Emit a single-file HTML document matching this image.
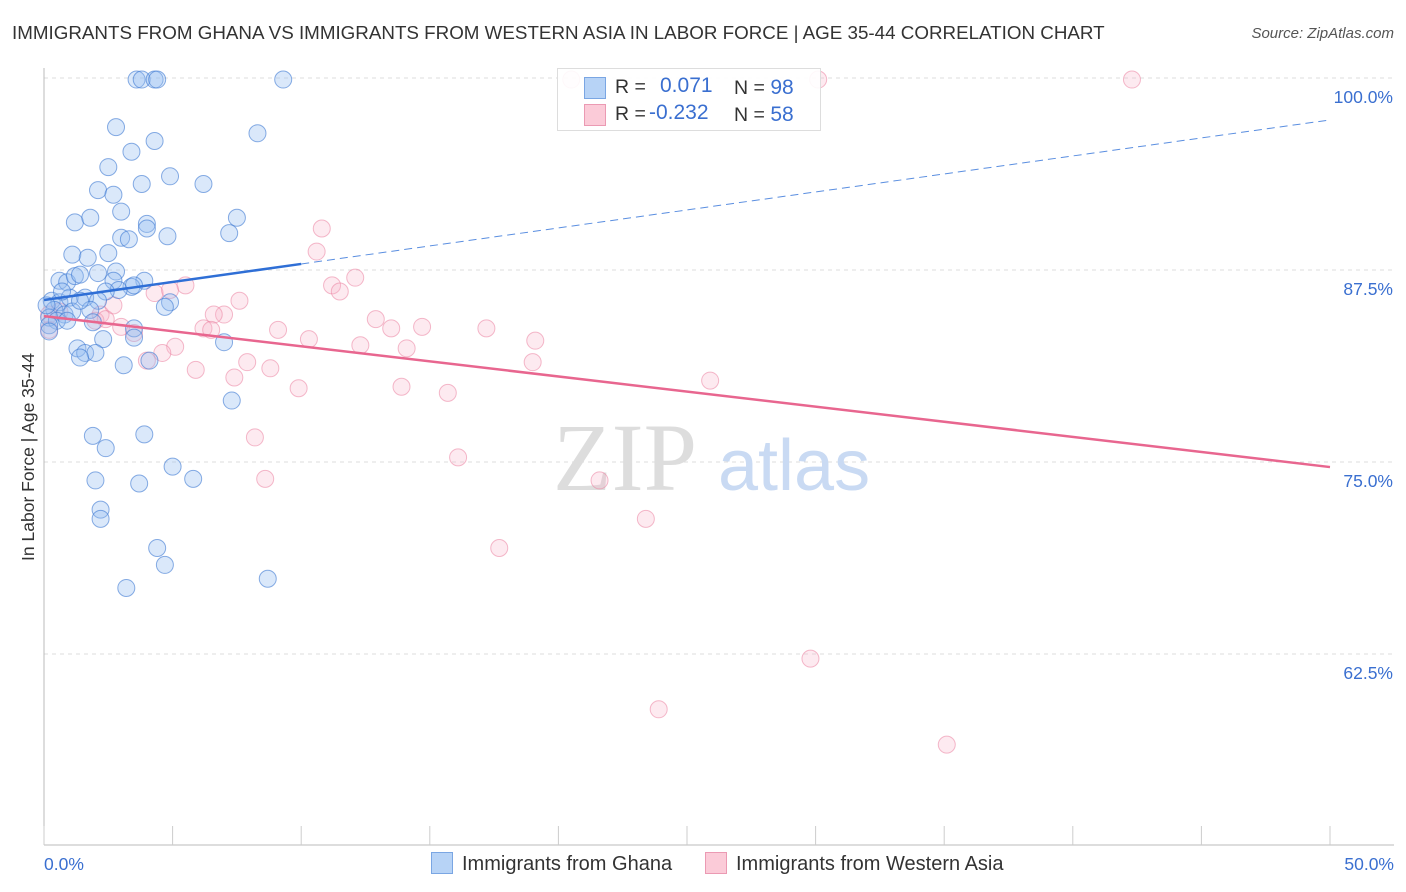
<!DOCTYPE html>
<html><head><meta charset="utf-8"><style>
body{margin:0;background:#fff;font-family:"Liberation Sans",sans-serif;}
#wrap{position:relative;width:1406px;height:892px;overflow:hidden;}
.t{position:absolute;white-space:nowrap;}
</style></head><body>
<div id="wrap">
<div class="t" style="left:12px;top:22px;font-size:18.8px;color:#333;">IMMIGRANTS FROM GHANA VS IMMIGRANTS FROM WESTERN ASIA IN LABOR FORCE | AGE 35-44 CORRELATION CHART</div>
<div class="t" style="right:12px;top:25px;font-size:15px;color:#555;font-style:italic;">Source: ZipAtlas.com</div>
<svg id="plot" width="1406" height="892" style="position:absolute;left:0;top:0"></svg>
</div>
<script>
const xTicks=[0,5,10,15,20,25,30,35,40,45,50];
const yTicks=[100,87.5,75,62.5];
const yTickLabels=["100.0%","87.5%","75.0%","62.5%"];
const ghanaX=[3.6,3.8,4.3,4.4,9.3,2.8,8.3,4.3,3.4,2.5,3.8,4.9,6.2,2.1,2.7,3.0,7.5,1.2,1.8,4.0,4.0,4.8,7.2,3.0,3.3,1.1,1.7,2.5,0.6,0.9,1.2,1.4,2.1,2.8,2.7,3.9,3.4,2.9,3.5,2.4,0.3,0.6,1.0,1.6,2.1,4.9,4.7,0.4,0.8,1.1,1.8,0.2,0.5,0.9,1.9,0.2,0.2,3.5,3.5,2.3,7.0,1.3,1.6,2.0,1.4,3.1,4.1,7.3,1.9,3.9,2.4,2.0,3.7,5.0,5.8,2.2,2.2,4.4,4.7,8.7,3.2,0.1,0.7,1.4];
const ghanaY=[99.9,99.9,99.9,99.9,99.9,96.8,96.4,95.9,95.2,94.2,93.1,93.6,93.1,92.7,92.4,91.3,90.9,90.6,90.9,90.5,90.2,89.7,89.9,89.6,89.5,88.5,88.3,88.6,86.8,86.7,87.1,87.2,87.3,87.4,86.8,86.8,86.4,86.2,86.5,86.1,85.5,85.4,85.7,85.7,85.5,85.4,85.1,84.9,84.6,84.8,84.9,84.4,84.2,84.2,84.1,83.9,83.5,83.7,83.1,83.0,82.8,82.4,82.1,82.1,81.8,81.3,81.6,79.0,76.7,76.8,75.9,73.8,73.6,74.7,73.9,71.9,71.3,69.4,68.3,67.4,66.8,85.2,86.1,85.5];
const waX=[20.5,30.1,42.3,10.8,10.6,12.1,11.2,11.5,5.5,4.3,4.9,7.6,7.0,6.6,9.1,6.2,6.5,12.9,13.5,14.7,17.2,19.1,10.3,12.3,14.1,5.1,4.6,4.0,3.0,2.2,3.5,7.9,8.8,5.9,7.4,19.0,9.9,13.9,15.7,25.9,8.2,8.6,16.1,21.6,23.4,17.7,29.8,23.9,35.1,2.7,2.0,0.2,0.6,0.2,2.4];
const waY=[99.9,99.9,99.9,90.2,88.7,87.0,86.5,86.1,86.5,86.0,86.2,85.5,84.6,84.6,83.6,83.7,83.6,84.3,83.7,83.8,83.7,82.9,83.0,82.6,82.4,82.5,82.1,81.6,83.8,84.6,83.4,81.5,81.1,81.0,80.5,81.5,79.8,79.9,79.5,80.3,76.6,73.9,75.3,73.8,71.3,69.4,62.2,58.9,56.6,85.2,84.2,83.6,84.8,84.6,84.3];
const ghanaTrend=[85.55,97.27];
const ghanaSolidEnd=10;
const waTrend=[84.5,74.67];

const X0=44,X1=1330,Y100=78,PX_PER_PCT=15.36;
const sx=v=>X0+(v/50)*(X1-X0);
const sy=v=>Y100+(100-v)*PX_PER_PCT;
const svg=document.getElementById('plot');
const NS='http://www.w3.org/2000/svg';
function mk(tag,attrs){const e=document.createElementNS(NS,tag);for(const k in attrs)e.setAttribute(k,attrs[k]);svg.appendChild(e);return e;}

yTicks.forEach((v,i)=>{
  const g=mk('line',{x1:44,x2:1394,y1:sy(v),y2:sy(v),stroke:'#ddd','stroke-dasharray':'4,4'});
  
  
  const t=mk('text',{x:1393,y:sy(v)+25,'text-anchor':'end','font-size':'17.5',fill:'#3a6fd0','font-family':'Liberation Sans, sans-serif'});
  t.textContent=yTickLabels[i];
  
  
});
let a=mk('line',{x1:44,x2:44,y1:68,y2:845,stroke:'#bbb'});


a=mk('line',{x1:44,x2:1394,y1:845,y2:845,stroke:'#bbb'});


xTicks.forEach(v=>{
  const l=mk('line',{x1:sx(v),x2:sx(v),y1:826,y2:845,stroke:'#ccc'});
  
  
});
[[0,'0.0%','start',44],[50,'50.0%','end',1394]].forEach(d=>{
  const t=mk('text',{x:d[3],y:870,'text-anchor':d[2],'font-size':'17.5',fill:'#3a6fd0','font-family':'Liberation Sans, sans-serif'});
  t.textContent=d[1];
  
  
});
let yt=mk('text',{x:34,y:457,transform:'rotate(-90 34 457)','text-anchor':'middle','font-size':'17.5',fill:'#333','font-family':'Liberation Sans, sans-serif'});
yt.textContent='In Labor Force | Age 35-44';


let w=mk('text',{x:553,y:490,'font-size':'96','font-family':'Liberation Serif, serif',fill:'#ddd'});
w.textContent='ZIP';


w=mk('text',{x:718,y:490,'font-size':'72','font-family':'Liberation Sans, sans-serif',fill:'#c9daf3'});
w.textContent='atlas';



waX.forEach((x,i)=>{
  const c=mk('circle',{cx:sx(x),cy:sy(waY[i]),r:8.5,fill:'rgba(248,180,200,0.28)',stroke:'rgba(235,130,160,0.55)','stroke-width':1});
  
  
});
ghanaX.forEach((x,i)=>{
  const c=mk('circle',{cx:sx(x),cy:sy(ghanaY[i]),r:8.5,fill:'rgba(150,190,240,0.35)',stroke:'rgba(60,120,210,0.6)','stroke-width':1});
  
  
});
const gy=x=>ghanaTrend[0]+(ghanaTrend[1]-ghanaTrend[0])*x/50;
let l=mk('line',{x1:sx(0),y1:sy(gy(0)),x2:sx(ghanaSolidEnd),y2:sy(gy(ghanaSolidEnd)),stroke:'#2f6fd6','stroke-width':2.5});


l=mk('line',{x1:sx(ghanaSolidEnd),y1:sy(gy(ghanaSolidEnd)),x2:sx(50),y2:sy(gy(50)),stroke:'#5a8ee0','stroke-width':1,'stroke-dasharray':'8,5'});


l=mk('line',{x1:sx(0),y1:sy(waTrend[0]),x2:sx(50),y2:sy(waTrend[1]),stroke:'#e8668f','stroke-width':2.5});


</script>
<div class="t" style="left:557px;top:68px;width:262px;height:61px;border:1px solid #ddd;background:rgba(255,255,255,0.9);font-size:19.5px;">
 <div style="position:absolute;left:26px;top:8px;width:20px;height:20px;background:#b7d3f6;border:1px solid #7aa6e3;"></div>
 <div style="position:absolute;left:57px;top:7px;color:#333">R = </div><div style="position:absolute;left:102px;top:5px;color:#3a6fd0;font-size:21px">0.071</div>
 <div style="position:absolute;left:176px;top:7px;color:#333">N = <span style="color:#3a6fd0;font-size:21px">98</span></div>
 <div style="position:absolute;left:26px;top:35px;width:20px;height:20px;background:#fbcbd8;border:1px solid #eb9ab3;"></div>
 <div style="position:absolute;left:57px;top:34px;color:#333">R = </div><div style="position:absolute;left:91px;top:32px;color:#3a6fd0;font-size:21px">-0.232</div>
 <div style="position:absolute;left:176px;top:34px;color:#333">N = <span style="color:#3a6fd0;font-size:21px">58</span></div>
</div>
<div class="t" style="left:431px;top:852px;font-size:20px;color:#333;">
 <span style="display:inline-block;width:20px;height:20px;background:#b7d3f6;border:1px solid #7aa6e3;vertical-align:-4px;margin-right:9px"></span>Immigrants from Ghana</div>
<div class="t" style="left:705px;top:852px;font-size:20px;color:#333;">
 <span style="display:inline-block;width:20px;height:20px;background:#fbcbd8;border:1px solid #eb9ab3;vertical-align:-4px;margin-right:9px"></span>Immigrants from Western Asia</div>
</body></html>
